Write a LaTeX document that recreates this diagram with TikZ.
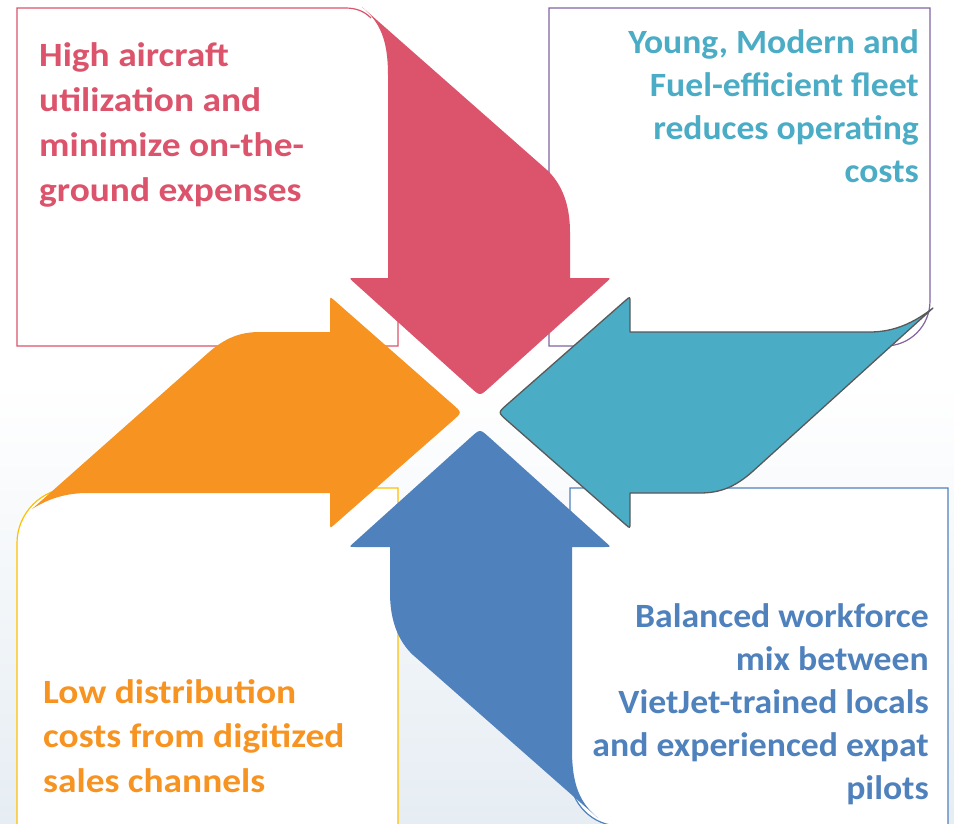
\documentclass[tikz,border=0pt]{standalone}
\usepackage{fontspec}
\usepackage{graphicx}
\setmainfont{Carlito}
\definecolor{pinkc}{HTML}{DC536C}
\definecolor{tealc}{HTML}{4BACC6}
\definecolor{orangec}{HTML}{F79320}
\definecolor{bluec}{HTML}{4F81BD}
\definecolor{purplec}{HTML}{8064A2}
\definecolor{goldc}{HTML}{FFC000}
\definecolor{outlinec}{HTML}{595959}
\definecolor{bgc}{HTML}{E6EDF3}
\begin{document}
\begin{tikzpicture}[x=1pt,y=-1pt,
  boxline/.style={line width=1.2pt, fill=white},
  txt/.style={inner sep=0pt, font=\bfseries}]
\useasboundingbox (0,0) rectangle (954,824);
\shade[top color=white, bottom color=bgc] (0,380) rectangle (954,824);
% boxes
\fill[white] (17,8) rectangle (398,346);
\draw[boxline, draw=pinkc, fill=none] (398,300) -- (398,346) -- (17,346) -- (17,8) -- (345,8) .. controls (356,8) and (364,11) .. (371,18);
\draw[boxline, draw=purplec] (549,346) -- (549,8) -- (930,8) -- (930,301) .. controls (930,326) and (910,346) .. (885,346) -- cycle;
\draw[boxline, draw=goldc] (398,830) -- (398,488) -- (72,488) .. controls (42,488) and (17,513) .. (17,543) -- (17,830);
\draw[boxline, draw=bluec] (948,830) -- (948,488) -- (570,488) -- (570,776) .. controls (570,803.5) and (592.5,826) .. (620,826) -- (948,826);
% pink arrow (down)
\fill[pinkc] (388,278) -- (388,75) .. controls (388,40) and (380,22) .. (362,7) -- (547,170) .. controls (562,184) and (570,205) .. (570,232) -- (570,278) -- (605,278) .. controls (611,278) .. (606.5,282) -- (488.9,388) .. controls (480,396) .. (471.1,388) -- (353.5,282) .. controls (349,278) .. (355,278) -- cycle;
% teal arrow (left)
\filldraw[fill=tealc, draw=outlinec, line width=1.3pt, line join=round] (630,332) -- (630,302.5) .. controls (630,296.5) .. (625.5,300.5) -- (507,404.6) .. controls (498,412.5) .. (507,420.4) -- (625.5,524.5) .. controls (630,528.5) .. (630,522.5) -- (630,493) -- (700,493) .. controls (720,493) and (735,487) .. (752,472) -- (933,308) .. controls (915,322) and (895,332) .. (870,332) -- cycle;
% blue arrow (up)
\fill[bluec] (572,547) -- (572,750) .. controls (572,785) and (580,803) .. (598,818) -- (413,655) .. controls (398,641) and (390,620) .. (390,593) -- (390,547) -- (355,547) .. controls (349,547) .. (353.5,543) -- (471.1,437) .. controls (480,429) .. (488.9,437) -- (606.5,543) .. controls (611,547) .. (605,547) -- cycle;
% orange arrow (right)
\fill[orangec] (330,493) -- (330,522.5) .. controls (330,528.5) .. (334.5,524.5) -- (453,420.4) .. controls (462,412.5) .. (453,404.6) -- (334.5,300.5) .. controls (330,296.5) .. (330,302.5) -- (330,332) -- (260,332) .. controls (240,332) and (225,338) .. (208,353) -- (32,509) .. controls (48,499) and (65,493) .. (88,493) -- cycle;
% texts
\node[txt, anchor=base west, text=pinkc] (tltext) at (39,67) {\scalebox{1.1}[1]{\parbox[t]{340pt}{\fontsize{34}{45}\selectfont\raggedright High aircraft\\utilization and\\minimize on-the-\\ground expenses}}};
\node[txt, anchor=base east, text=tealc] (trtext) at (919,54) {\scalebox{1.047}[1]{\parbox[t]{400pt}{\fontsize{34}{43}\selectfont\raggedleft Young, Modern and\\Fuel-efficient fleet\\reduces operating\\costs}}};
\node[txt, anchor=base west, text=orangec] (bltext) at (43,703) {\scalebox{1.1}[1]{\parbox[t]{340pt}{\fontsize{34}{44.5}\selectfont\raggedright Low distribution\\costs from digitized\\sales channels}}};
\node[txt, anchor=base east, text=bluec] (brtext) at (929,627) {\scalebox{1.05}[1]{\parbox[t]{400pt}{\fontsize{34}{43}\selectfont\raggedleft Balanced workforce\\mix between\\VietJet-trained locals\\and experienced expat\\pilots}}};
\end{tikzpicture}
\end{document}
